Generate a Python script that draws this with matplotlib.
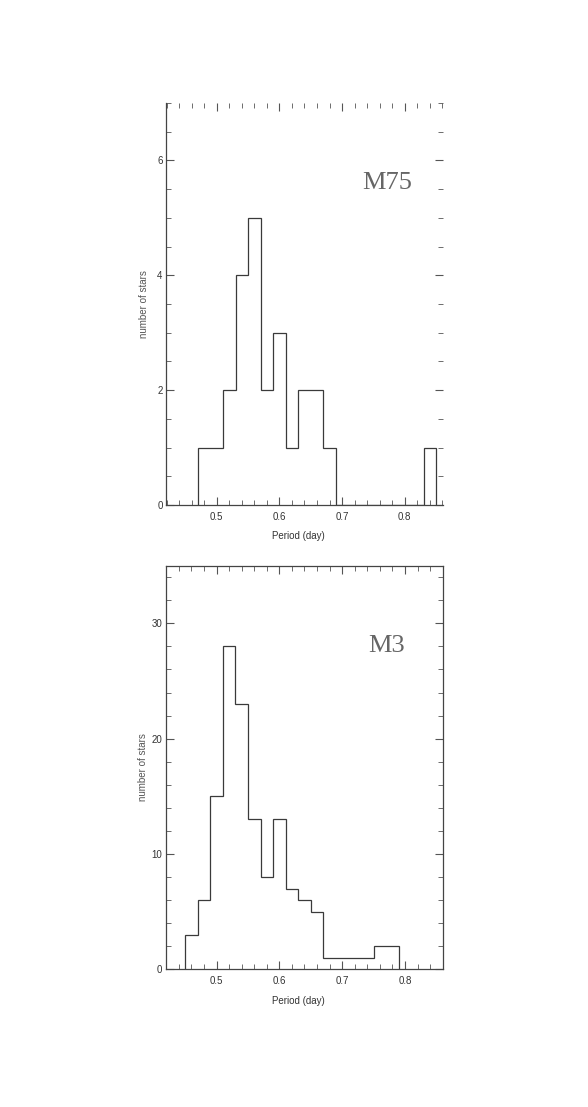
import matplotlib
matplotlib.use('Agg')
import matplotlib.pyplot as plt
from matplotlib.ticker import MultipleLocator, FixedLocator
import numpy as np

# M75 period histogram (bin width 0.02 day)
m75_edges = [0.47, 0.49, 0.51, 0.53, 0.55, 0.57, 0.59, 0.61, 0.63, 0.65, 0.67, 0.69,
             0.71, 0.73, 0.75, 0.77, 0.79, 0.81, 0.83, 0.85]
m75_counts = [1, 1, 2, 4, 5, 2, 3, 1, 2, 2, 1, 0, 0, 0, 0, 0, 0, 0, 1]

# M3 period histogram
m3_edges = [0.45, 0.47, 0.49, 0.51, 0.53, 0.55, 0.57, 0.59, 0.61, 0.63, 0.65, 0.67,
            0.75, 0.79]
m3_counts = [3, 6, 15, 28, 23, 13, 8, 13, 7, 6, 5, 1, 2]

xticks = [0.5, 0.6, 0.7, 0.8]
xticklabels = ['0.5', '0.6', '0.7', '0.8']

plt.rcParams['font.family'] = ['Liberation Sans', 'DejaVu Sans']

fig = plt.figure(figsize=(5.88, 11.07), dpi=100)
ax1 = fig.add_axes([0.2823, 0.5438, 0.4711, 0.3632])
ax2 = fig.add_axes([0.2818, 0.1244, 0.4721, 0.3646])

lc = '#3a3a3a'


def style(ax, ymax, ymajor, yminor, label, lx, ly, frame):
    ax.set_xlim(0.419, 0.861)
    ax.set_ylim(0, ymax)
    ax.xaxis.set_major_locator(FixedLocator(xticks))
    ax.set_xticklabels(xticklabels)
    ax.xaxis.set_minor_locator(MultipleLocator(0.02))
    ax.yaxis.set_major_locator(MultipleLocator(ymajor))
    ax.yaxis.set_minor_locator(MultipleLocator(yminor))
    ax.tick_params(which='both', direction='in', top=True, right=True,
                   color='#555555', labelsize=7, labelcolor='#333333')
    ax.tick_params(axis='x', pad=5)
    ax.tick_params(axis='y', pad=2.5)
    ax.tick_params(which='major', length=6, width=0.8)
    ax.tick_params(which='minor', length=3.5, width=0.6)
    for s in ax.spines.values():
        s.set_color('#444444')
        s.set_linewidth(0.9)
    if not frame:
        ax.spines['top'].set_visible(False)
        ax.spines['right'].set_visible(False)
    ax.set_xlabel('Period (day)', fontsize=7, color='#333333')
    ax.xaxis.set_label_coords(0.477, -0.065)
    ax.set_ylabel('number of stars', fontsize=7, color='#555555')
    ax.yaxis.set_label_coords(-0.062, 0.5)
    ax.text(lx, ly, label, transform=ax.transAxes, fontsize=19,
            family='Liberation Serif', color='#666666', ha='center', va='center')


ax1.stairs(m75_counts, m75_edges, baseline=0, color=lc, linewidth=0.9)
style(ax1, 7, 2, 0.5, 'M75', 0.80, 0.80, False)

ax2.stairs(m3_counts, m3_edges, baseline=0, color=lc, linewidth=0.9)
style(ax2, 35, 10, 2, 'M3', 0.795, 0.80, True)

fig.savefig('out.png', dpi=100)
